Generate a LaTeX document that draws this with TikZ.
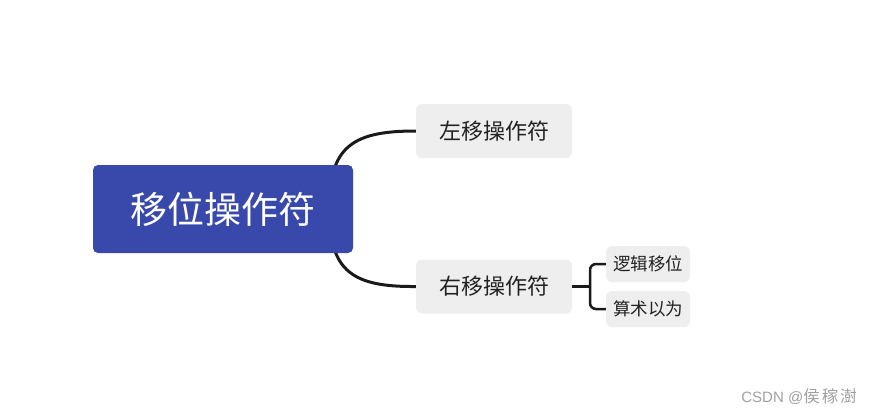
\documentclass[tikz,border=0pt]{standalone}
\usepackage{fontspec}
\newfontfamily\cjk{Noto Sans CJK SC}
\newfontfamily\arialf{Liberation Sans}
\definecolor{rootblue}{HTML}{3949AB}
\definecolor{boxgray}{HTML}{EEEEEE}
\definecolor{linec}{HTML}{1A1A1A}
\definecolor{txt}{HTML}{222222}
\definecolor{wm}{HTML}{A0A0A0}
\begin{document}
\begin{tikzpicture}[x=1pt,y=-1pt,
  rootbox/.style={fill=rootblue,rounded corners=5pt,minimum width=260pt,minimum height=88pt,inner sep=0pt,text=white,font=\cjk\fontsize{37}{40}\selectfont},
  childbox/.style={fill=boxgray,rounded corners=6pt,minimum width=156pt,minimum height=54pt,inner sep=0pt,text=txt,font=\cjk\fontsize{22}{26}\selectfont},
  subbox/.style={fill=boxgray,rounded corners=6pt,minimum width=84pt,minimum height=36pt,inner sep=0pt,text=txt,font=\cjk\fontsize{17.5}{20}\selectfont},
  conn/.style={draw=linec,line width=3pt},
  subconn/.style={draw=linec,line width=2.5pt,rounded corners=6pt}]
\useasboundingbox (0,0) rectangle (875,415);
\coordinate (rc) at (330,209);
\node[childbox] (left) at (494,131) {左移操作符};
\node[childbox] (right) at (494,286.5) {右移操作符};
\node[subbox] (logic) at (648,264) {逻辑移位};
\node[subbox] (arith) at (648,309) {算术以为};
\draw[conn] (rc) .. controls (328,145) and (355,131) .. (left.west);
\draw[conn] (rc) .. controls (328,273) and (355,287) .. (right.west);
\node[rootbox] (root) at (223,209) {移位操作符};
\coordinate (br) at (590,286.5);
\draw[conn,line width=2.5pt] (right.east) -- (br);
\draw[subconn] (logic.west) -- (590,264) -- (590,309) -- (arith.west);
\node[text=wm,inner sep=0pt,anchor=east] (wmk) at (857,397) {\arialf\fontsize{15}{18}\selectfont CSDN @\cjk\fontsize{16.5}{18}\selectfont 侯\hspace{2pt}稼\hspace{2pt}澍};
\end{tikzpicture}
\end{document}
